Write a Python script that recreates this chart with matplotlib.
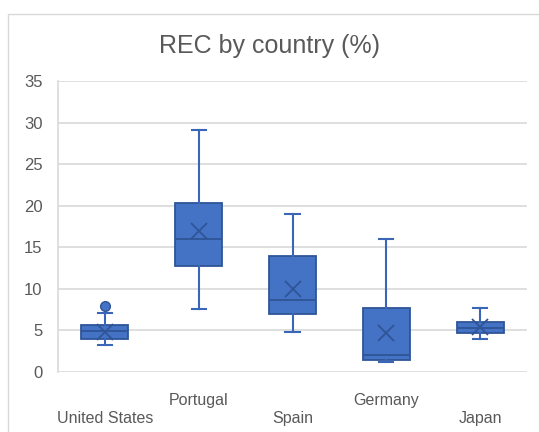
import matplotlib
matplotlib.use("Agg")
import matplotlib.pyplot as plt
from matplotlib.patches import Rectangle

plt.rcParams['font.family'] = ['Liberation Sans', 'DejaVu Sans']

countries = ["United States", "Portugal", "Spain", "Germany", "Japan"]
whisker_low = [3.3, 7.6, 4.8, 1.25, 4.0]
q1 = [4.0, 12.75, 7.0, 1.5, 4.65]
median = [4.9, 16.0, 8.6, 2.05, 5.35]
q3 = [5.6, 20.3, 14.0, 7.65, 6.05]
whisker_high = [7.05, 29.1, 19.0, 15.95, 7.75]
mean = [4.85, 16.9, 9.95, 4.75, 5.45]
outliers = [[7.95], [], [], [], []]
yticks = [0, 5, 10, 15, 20, 25, 30, 35]

FILL = "#4472C4"
EDGE = "#2F5597"
LINE = "#3A66B8"
TEXT = "#595959"
GRID = "#D9D9D9"

fig = plt.figure(figsize=(5.39, 4.32), dpi=100)
fig.patches.append(Rectangle((8 / 539, -0.2), 1.2, 1.2 - 14 / 432,
                             transform=fig.transFigure, fill=False,
                             edgecolor=GRID, linewidth=1.0))

ax = fig.add_axes([58 / 539, 1 - 372 / 432, (527 - 58) / 539, (372 - 81) / 432])

stats = []
for i, name in enumerate(countries):
    stats.append(dict(label=name, whislo=whisker_low[i], q1=q1[i], med=median[i],
                      q3=q3[i], whishi=whisker_high[i], mean=mean[i],
                      fliers=outliers[i]))

positions = list(range(1, len(countries) + 1))
ax.bxp(stats, positions=positions, widths=0.5, patch_artist=True,
       showmeans=True, showfliers=True,
       boxprops=dict(facecolor=FILL, edgecolor=EDGE, linewidth=1.3),
       medianprops=dict(color=EDGE, linewidth=1.3),
       whiskerprops=dict(color=LINE, linewidth=1.5),
       capprops=dict(color=LINE, linewidth=1.5),
       capwidths=0.15,
       meanprops=dict(marker='x', markeredgecolor=EDGE, markersize=11,
                      markeredgewidth=1.3),
       flierprops=dict(marker='o', markerfacecolor=FILL, markeredgecolor=EDGE,
                       markersize=7))

ax.set_xlim(0.5, len(countries) + 0.5)
ax.set_ylim(0, 35)
ax.set_yticks(yticks)
ax.set_yticklabels([str(v) for v in yticks])
ax.yaxis.grid(True, color=GRID, linewidth=1.2)
ax.set_axisbelow(True)
for side in ["top", "right", "bottom"]:
    ax.spines[side].set_visible(False)
ax.spines["left"].set_color(GRID)
ax.spines["left"].set_linewidth(1.2)
ax.tick_params(axis='y', length=0, pad=11, labelsize=12, labelcolor=TEXT)
ax.tick_params(axis='x', length=0, labelsize=11.5, labelcolor=TEXT)
ax.set_xticks(positions)
ax.set_xticklabels(countries)
for i, tick in enumerate(ax.xaxis.get_major_ticks()):
    tick.set_pad(28 if i % 2 == 0 else 15)

fig.text(0.5, 1 - 46 / 432, "REC by country (%)", ha='center', va='center',
         fontsize=18, color=TEXT)

fig.savefig("out.png", dpi=100)
